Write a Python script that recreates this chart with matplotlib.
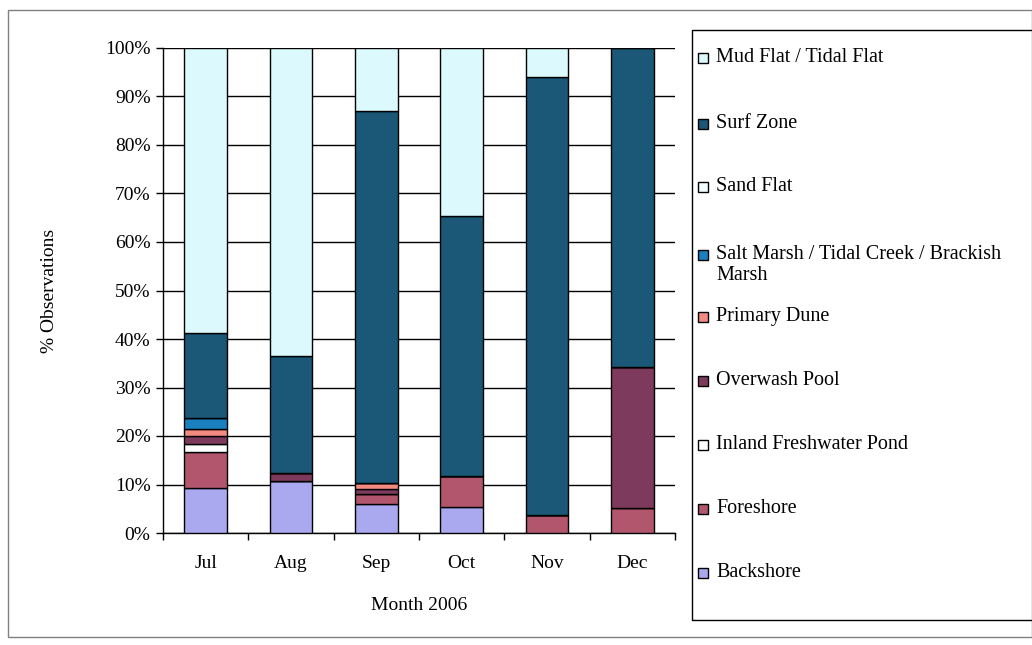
import matplotlib
matplotlib.use("Agg")
import matplotlib.pyplot as plt
import numpy as np
from matplotlib.patches import Rectangle

plt.rcParams['font.family'] = ['Liberation Serif', 'DejaVu Serif']

months = ["Jul", "Aug", "Sep", "Oct", "Nov", "Dec"]
# stacking order: bottom -> top
series = ["Backshore", "Foreshore", "Inland Freshwater Pond", "Overwash Pool",
          "Primary Dune", "Salt Marsh / Tidal Creek / Brackish\nMarsh",
          "Sand Flat", "Surf Zone", "Mud Flat / Tidal Flat"]
backshore = [9.3, 10.8, 6.0, 5.4, 0.0, 0.0]
foreshore = [7.5, 0.0, 2.0, 6.4, 3.7, 5.2]
inland_pond = [1.5, 0.0, 0.0, 0.0, 0.0, 0.0]
overwash_pool = [1.7, 1.5, 1.0, 0.0, 0.0, 29.0]
primary_dune = [1.5, 0.0, 1.3, 0.0, 0.0, 0.0]
salt_marsh = [2.3, 0.0, 0.0, 0.0, 0.0, 0.0]
sand_flat = [0.0, 0.0, 0.0, 0.0, 0.0, 0.0]
surf_zone = [17.4, 24.2, 76.7, 53.6, 90.4, 65.8]
mud_flat = [58.8, 63.5, 13.0, 34.6, 5.9, 0.0]

values = [backshore, foreshore, inland_pond, overwash_pool, primary_dune,
          salt_marsh, sand_flat, surf_zone, mud_flat]
colors = ["#aaa8ee", "#b2566e", "#ffffff", "#7e3a5c", "#f28a80",
          "#1a80c0", "#f2ffff", "#1b5878", "#dcfafd"]

W, H = 1032, 645
fig = plt.figure(figsize=(W / 100, H / 100), dpi=100)

# outer frame
fig.patches.append(Rectangle((8 / W, 8 / H), (W - 8) / W, (637 - 10) / H,
                             transform=fig.transFigure, fill=False,
                             edgecolor="#808080", linewidth=1.0))

ax = fig.add_axes([163 / W, 1 - 533 / H, (675 - 163) / W, (533 - 48) / H])
x = np.arange(len(months))
bottom = np.zeros(len(months))
for vals, col in zip(values, colors):
    v = np.array(vals, dtype=float)
    ax.bar(x, v, bottom=bottom, width=0.5, color=col, edgecolor="black",
           linewidth=1.0, zorder=3)
    bottom += v

ax.set_xlim(-0.5, len(months) - 0.5)
ax.set_ylim(0, 100)
ax.set_yticks(np.arange(0, 101, 10))
ax.set_yticklabels([f"{t}%" for t in range(0, 101, 10)], fontsize=14)
ax.yaxis.grid(True, color="black", linewidth=1.0, zorder=0)
ax.set_axisbelow(True)
ax.set_xticks(x)
ax.set_xticklabels(months, fontsize=14)
ax.set_xticks(np.arange(-0.5, len(months), 1.0), minor=True)
ax.tick_params(axis="x", which="major", length=0, pad=16)
ax.tick_params(axis="x", which="minor", length=5, width=1, direction="out")
ax.tick_params(axis="y", length=5, width=1, direction="out", pad=4)
for s in ["top", "right"]:
    ax.spines[s].set_visible(False)
ax.spines["left"].set_linewidth(1.0)
ax.spines["bottom"].set_linewidth(1.0)
ax.set_xlabel("Month 2006", fontsize=14, labelpad=18)
ax.set_ylabel("% Observations", fontsize=14, labelpad=34)

# legend box (reversed order, top = last series)
fig.patches.append(Rectangle((692 / W, 1 - 620 / H), (W - 692 + 5) / W, (620 - 30) / H,
                             transform=fig.transFigure, fill=False,
                             edgecolor="black", linewidth=1.0))
legend_y = [58, 124, 187, 255, 317, 381, 445, 509, 573]
for yy, name, col in zip(legend_y, series[::-1], colors[::-1]):
    fig.patches.append(Rectangle((698 / W, 1 - (yy + 5) / H), 10 / W, 10 / H,
                                 transform=fig.transFigure, facecolor=col,
                                 edgecolor="black", linewidth=1.0))
    fig.text(716 / W, 1 - (yy - 10) / H, name, fontsize=14.5, va="top", ha="left",
             linespacing=1.15)

fig.savefig("out.png", dpi=100, facecolor="white")
